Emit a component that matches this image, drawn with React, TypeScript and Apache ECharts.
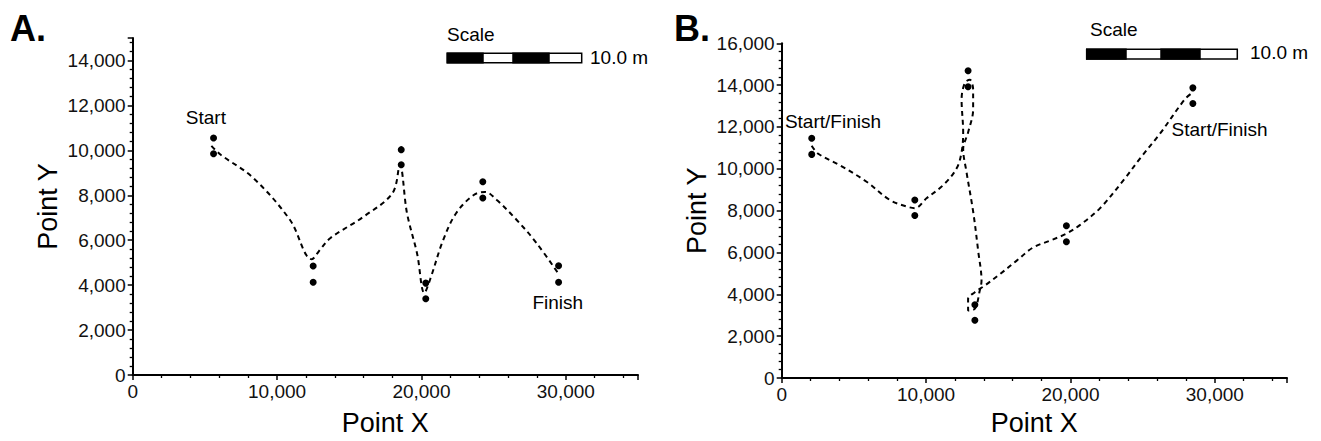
import React, { useEffect, useRef } from "react";
import * as echarts from "echarts";

// ---- Data ----
const pointsA: number[][] = [
  [5600, 10550], [5600, 9850],
  [12500, 4850], [12500, 4130],
  [18600, 10030], [18600, 9360],
  [20300, 4090], [20300, 3390],
  [24250, 8600], [24250, 7880],
  [29500, 4860], [29500, 4130],
];

const pathA: number[][] = [
  [5450, 10200], [6100, 9800], [8300, 8800], [10900, 6900], [12400, 5150],
  [13000, 5600], [13700, 6100], [16000, 7050], [18000, 8100], [18500, 9350],
  [19000, 7200], [19700, 5400], [20200, 3650], [20600, 4250], [21500, 6000],
  [22400, 7200], [23600, 8000], [24400, 8150], [25200, 7800], [26600, 6900],
  [28000, 5850], [29550, 4450],
];

const pointsB: number[][] = [
  [2080, 11460], [2080, 10690],
  [9220, 8510], [9220, 7770],
  [12910, 14690], [12910, 13920],
  [13380, 3500], [13380, 2760],
  [19720, 7280], [19720, 6510],
  [28480, 13870], [28480, 13120],
];

const pathB: number[][] = [
  [2076, 11100], [2530, 10720], [4030, 10170], [5880, 9380], [7490, 8510],
  [8650, 8200], [9220, 8120], [10030, 8590], [11180, 9220], [12110, 10010],
  [12460, 10800], [12570, 11740], [12460, 13320], [12690, 14110], [13030, 14260],
  [13260, 13790], [13260, 12850], [12910, 11740], [12570, 10950], [12800, 9850],
  [13260, 7960], [13610, 6070], [13840, 4650], [13720, 4180], [13380, 3310],
  [12910, 3230], [12910, 3780], [13380, 4100], [14070, 4420], [15110, 4960],
  [16260, 5600], [17390, 6230], [18560, 6560], [19720, 6900], [20650, 7310],
  [22040, 8110], [23760, 9530], [24800, 10480], [26180, 11660], [27920, 13320],
  [28470, 13650],
];

const labelsA = [
  { name: "Start", value: [5070, 11460] },
  { name: "Finish", value: [29440, 3210] },
];
const labelsB = [
  { name: "Start/Finish", value: [3550, 12250] },
  { name: "Start/Finish", value: [30330, 11870] },
];

const xTickLabels = ["0", "10,000", "20,000", "30,000"];
const FONT = "Liberation Sans, Arial, sans-serif";

function fmt(v: number) {
  return v.toLocaleString("en-US");
}

export default function App() {
  const ref = useRef<HTMLDivElement>(null);

  useEffect(() => {
    if (!ref.current) return;
    const chart = echarts.init(ref.current, undefined, { renderer: "svg" });

    const axisCommon = {
      type: "value" as const,
      min: 0,
      splitLine: { show: false },
      axisLine: { show: true, onZero: false, lineStyle: { color: "#000", width: 2 } },
      axisTick: { show: true, length: 5, lineStyle: { color: "#000", width: 1.5 } },
      minorTick: { show: true, splitNumber: 5, length: 3, lineStyle: { color: "#000", width: 1.3 } },
      nameTextStyle: { fontFamily: FONT, fontSize: 27, color: "#000" },
      nameLocation: "middle" as const,
    };

    const xAxisFor = (gi: number, gap: number) => ({
      ...axisCommon,
      gridIndex: gi,
      max: 35000,
      interval: 10000,
      name: "Point X",
      nameGap: gap,
      axisLabel: {
        fontFamily: FONT, fontSize: 19, color: "#111", margin: 7,
        showMaxLabel: false,
        formatter: (v: number) => (xTickLabels.includes(fmt(v)) ? fmt(v) : ""),
      },
    });

    const yAxisFor = (gi: number, max: number, showMax: boolean) => ({
      ...axisCommon,
      gridIndex: gi,
      max,
      interval: 2000,
      name: "Point Y",
      nameGap: 71,
      axisLabel: {
        fontFamily: FONT, fontSize: 19, color: "#111", margin: 7,
        showMaxLabel: showMax,
        formatter: (v: number) => fmt(v),
      },
    });

    const dots = (data: number[][], i: number) => ({
      type: "scatter",
      xAxisIndex: i, yAxisIndex: i,
      data,
      symbol: "circle",
      symbolSize: 7,
      itemStyle: { color: "#000", opacity: 1 },
      z: 5,
    });
    const curve = (data: number[][], i: number) => ({
      type: "line",
      xAxisIndex: i, yAxisIndex: i,
      data,
      smooth: 0.35,
      showSymbol: false,
      symbol: "none",
      lineStyle: { color: "#000", width: 2, type: [5, 4], opacity: 1 },
      z: 3,
    });
    const notes = (data: any[], i: number) => ({
      type: "scatter",
      xAxisIndex: i, yAxisIndex: i,
      data,
      symbolSize: 0,
      itemStyle: { opacity: 1 },
      label: {
        show: true, position: "inside", formatter: "{b}",
        fontFamily: FONT, fontSize: 19, color: "#000", opacity: 1,
      },
      z: 6,
    });

    const txt = (text: string, x: number, y: number, size: number, bold = false, align = "left") => ({
      type: "text",
      x, y,
      style: {
        text, fill: "#000", align, verticalAlign: "middle",
        font: `${bold ? "bold " : ""}${size}px ${FONT}`,
      },
    });
    const rect = (x: number, y: number, w: number, h: number, fill: string, stroke = "#000") => ({
      type: "rect",
      shape: { x, y, width: w, height: h },
      style: { fill, stroke, lineWidth: 1.5 },
    });

    chart.setOption({
      animation: false,
      backgroundColor: "#fff",
      grid: [
        { left: 132.7, top: 38, width: 505.3, height: 337 },
        { left: 781.7, top: 43.3, width: 505.3, height: 338.4 },
      ],
      xAxis: [xAxisFor(0, 34), xAxisFor(1, 31)],
      yAxis: [yAxisFor(0, 15000, false), yAxisFor(1, 16000, true)],
      series: [
        curve(pathA, 0), dots(pointsA, 0), notes(labelsA, 0),
        curve(pathB, 1), dots(pointsB, 1), notes(labelsB, 1),
      ],
      graphic: [
        txt("A.", 10, 28, 36, true),
        txt("B.", 674, 28, 36, true),
        txt("Scale", 447, 34, 19),
        rect(447.3, 53.3, 134.4, 9.4, "#fff"),
        rect(447.3, 53.3, 35.7, 9.4, "#000"),
        rect(513, 53.3, 36, 9.4, "#000"),
        txt("10.0 m", 590, 57, 19),
        txt("Scale", 1090, 29, 19),
        rect(1086.7, 49.3, 150.6, 9.7, "#fff"),
        rect(1086.7, 49.3, 39.3, 9.7, "#000"),
        rect(1161, 49.3, 39, 9.7, "#000"),
        txt("10.0 m", 1250, 52, 19),
      ],
    });

    return () => chart.dispose();
  }, []);

  return (
    <div
      ref={ref}
      style={{ position: "absolute", left: 0, top: 0, width: 1321, height: 441, background: "#fff" }}
    />
  );
}
